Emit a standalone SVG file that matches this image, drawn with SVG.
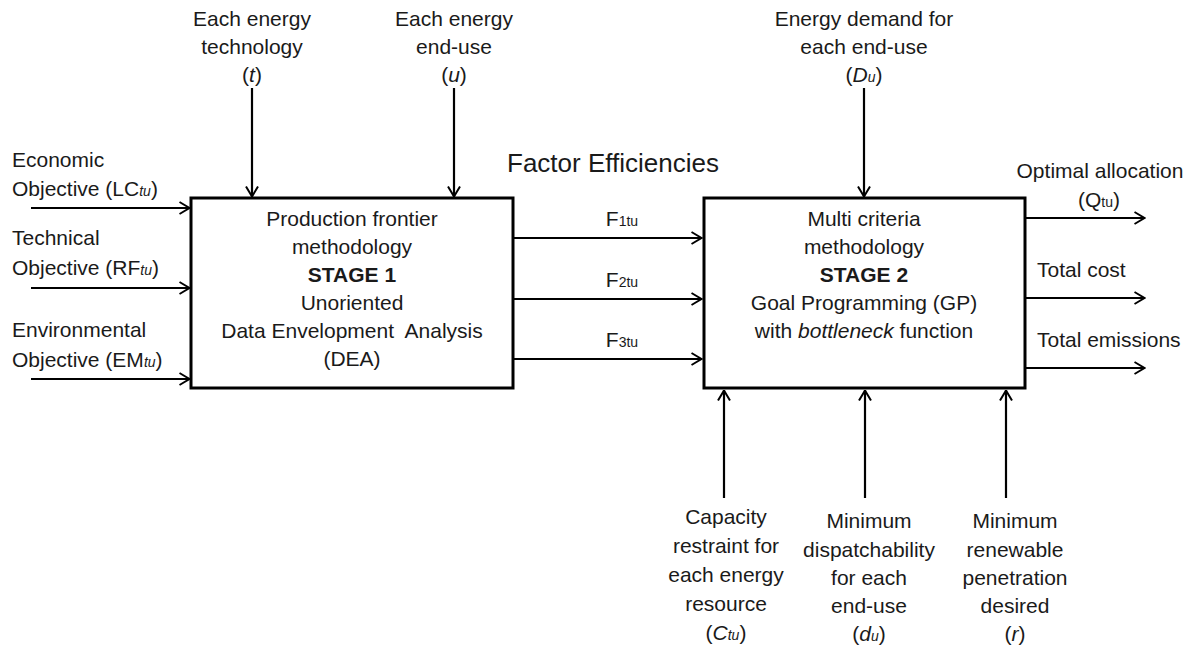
<svg xmlns="http://www.w3.org/2000/svg" width="1193" height="648" viewBox="0 0 1193 648">
<style>
text{font-family:"Liberation Sans",Arial,sans-serif;font-size:21px;fill:#1a1a1a}
.c{text-anchor:middle}
.s{font-size:14px}
.i{font-style:italic}
.b{font-weight:bold}
.box{fill:#fff;stroke:#000;stroke-width:3}
.ln{stroke:#000;stroke-width:2.2;fill:none}
</style>
<defs>
<marker id="arr" viewBox="0 0 12 14" refX="11.5" refY="7" markerWidth="12" markerHeight="14" markerUnits="userSpaceOnUse" orient="auto">
<path d="M1,1 L11,7 L1,13" fill="none" stroke="#000" stroke-width="2"/>
</marker>
</defs>
<rect width="1193" height="648" fill="#fff"/>
<g id="connectors">
<line class="ln" x1="31" y1="208" x2="190" y2="208" marker-end="url(#arr)"/>
<line class="ln" x1="31" y1="288" x2="190" y2="288" marker-end="url(#arr)"/>
<line class="ln" x1="31" y1="379" x2="190" y2="379" marker-end="url(#arr)"/>
<line class="ln" x1="252" y1="88" x2="252" y2="197" marker-end="url(#arr)"/>
<line class="ln" x1="454" y1="88" x2="454" y2="197" marker-end="url(#arr)"/>
<line class="ln" x1="864" y1="88" x2="864" y2="197" marker-end="url(#arr)"/>
<line class="ln" x1="513" y1="238" x2="702" y2="238" marker-end="url(#arr)"/>
<line class="ln" x1="513" y1="299" x2="702" y2="299" marker-end="url(#arr)"/>
<line class="ln" x1="513" y1="359" x2="702" y2="359" marker-end="url(#arr)"/>
<line class="ln" x1="1025" y1="218" x2="1145" y2="218" marker-end="url(#arr)"/>
<line class="ln" x1="1025" y1="298" x2="1145" y2="298" marker-end="url(#arr)"/>
<line class="ln" x1="1025" y1="368" x2="1145" y2="368" marker-end="url(#arr)"/>
<line class="ln" x1="724" y1="498" x2="724" y2="390" marker-end="url(#arr)"/>
<line class="ln" x1="865" y1="498" x2="865" y2="390" marker-end="url(#arr)"/>
<line class="ln" x1="1006" y1="498" x2="1006" y2="390" marker-end="url(#arr)"/>
</g>
<g id="stage1">
<rect class="box" x="191" y="198" width="322" height="190"/>
<text class="c" x="352" y="226">Production frontier</text>
<text class="c" x="352" y="254">methodology</text>
<text class="c b" x="352" y="282">STAGE 1</text>
<text class="c" x="352" y="310">Unoriented</text>
<text class="c" x="352" y="338" xml:space="preserve">Data Envelopment  Analysis</text>
<text class="c" x="352" y="366">(DEA)</text>
</g>
<g id="stage2">
<rect class="box" x="704" y="198" width="321" height="190"/>
<text class="c" x="864" y="226">Multi criteria</text>
<text class="c" x="864" y="254">methodology</text>
<text class="c b" x="864" y="282">STAGE 2</text>
<text class="c" x="864" y="310">Goal Programming (GP)</text>
<text class="c" x="864" y="338">with <tspan class="i">bottleneck</tspan> function</text>
</g>
<g id="in-economic">
<text x="12" y="167">Economic</text>
<text x="12" y="196">Objective (LC<tspan class="s i">tu</tspan>)</text>
</g>
<g id="in-technical">
<text x="12" y="245">Technical</text>
<text x="12" y="275">Objective (RF<tspan class="s i">tu</tspan>)</text>
</g>
<g id="in-environmental">
<text x="12" y="337">Environmental</text>
<text x="12" y="367">Objective (EM<tspan class="s i">tu</tspan>)</text>
</g>
<g id="in-technology">
<text class="c" x="252" y="26">Each energy</text>
<text class="c" x="252" y="54">technology</text>
<text class="c" x="252" y="82">(<tspan class="i">t</tspan>)</text>
</g>
<g id="in-enduse">
<text class="c" x="454" y="26">Each energy</text>
<text class="c" x="454" y="54">end-use</text>
<text class="c" x="454" y="82">(<tspan class="i">u</tspan>)</text>
</g>
<g id="in-demand">
<text class="c" x="864" y="26">Energy demand for</text>
<text class="c" x="864" y="54">each end-use</text>
<text class="c" x="864" y="82">(<tspan class="i">D</tspan><tspan class="s i">u</tspan>)</text>
</g>
<g id="factor-efficiencies">
<text x="507" y="172" style="font-size:26px">Factor Efficiencies</text>
<text class="c" x="622" y="226">F<tspan class="s">1tu</tspan></text>
<text class="c" x="622" y="287">F<tspan class="s">2tu</tspan></text>
<text class="c" x="622" y="347">F<tspan class="s">3tu</tspan></text>
</g>
<g id="out-allocation">
<text class="c" x="1100" y="178">Optimal allocation</text>
<text class="c" x="1099" y="207">(Q<tspan class="s">tu</tspan>)</text>
</g>
<g id="out-cost">
<text x="1037" y="277">Total cost</text>
</g>
<g id="out-emissions">
<text x="1037" y="347">Total emissions</text>
</g>
<g id="con-capacity">
<text class="c" x="726" y="524">Capacity</text>
<text class="c" x="726" y="553">restraint for</text>
<text class="c" x="726" y="582">each energy</text>
<text class="c" x="726" y="611">resource</text>
<text class="c" x="726" y="640">(<tspan class="i">C</tspan><tspan class="s i">tu</tspan>)</text>
</g>
<g id="con-dispatch">
<text class="c" x="869" y="528">Minimum</text>
<text class="c" x="869" y="557">dispatchability</text>
<text class="c" x="869" y="585">for each</text>
<text class="c" x="869" y="613">end-use</text>
<text class="c" x="869" y="641">(<tspan class="i">d</tspan><tspan class="s i">u</tspan>)</text>
</g>
<g id="con-renewable">
<text class="c" x="1015" y="528">Minimum</text>
<text class="c" x="1015" y="557">renewable</text>
<text class="c" x="1015" y="585">penetration</text>
<text class="c" x="1015" y="613">desired</text>
<text class="c" x="1015" y="641">(<tspan class="i">r</tspan>)</text>
</g>
</svg>
